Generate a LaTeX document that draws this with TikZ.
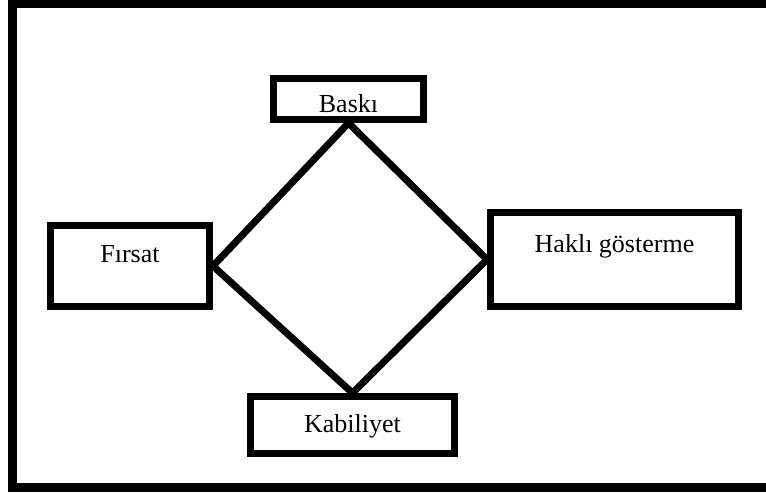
\documentclass[tikz,border=0pt]{standalone}
\usepackage{fontspec}
\setmainfont{Liberation Serif}
\tikzset{
    %Define style for boxes
    kutu/.style={
           rectangle,
           draw=black,
           line width=5.25pt,
           inner sep=2pt,
           font=\fontsize{19.5}{22}\selectfont,
           text centered},
    %Define style for the diamond lines
    bag/.style={
           draw=black,
           line width=5.25pt}
}
\begin{document}
\begin{tikzpicture}[x=0.75pt,y=-0.75pt]
\useasboundingbox (0,0) rectangle (766,495);
\clip (0,0) rectangle (766,495);
 %frame
\draw[line width=6.75pt] (12.5,3.5) rectangle (780,487);
 %nodes
\node[kutu, minimum width=112.5pt, minimum height=30.75pt,
      text height=21pt, text depth=0pt] (baski) at (348.5,99) {Baskı};
\node[kutu, minimum width=119.25pt, minimum height=60.75pt,
      text height=13.5pt, text depth=19.5pt] (firsat) at (130,266) {Fırsat};
\node[kutu, minimum width=186pt, minimum height=70.5pt,
      text height=13.5pt, text depth=24.75pt] (hakli) at (614.5,259.5) {Haklı gösterme};
\node[kutu, minimum width=153pt, minimum height=42.75pt,
      text height=13.5pt, text depth=3pt] (kabiliyet) at (352.5,425) {Kabiliyet};
 %lines
\path[bag]
    (baski.south) edge (firsat.east) edge (hakli.west)
    (kabiliyet.north) edge (firsat.east) edge (hakli.west);
\end{tikzpicture}
\end{document}
